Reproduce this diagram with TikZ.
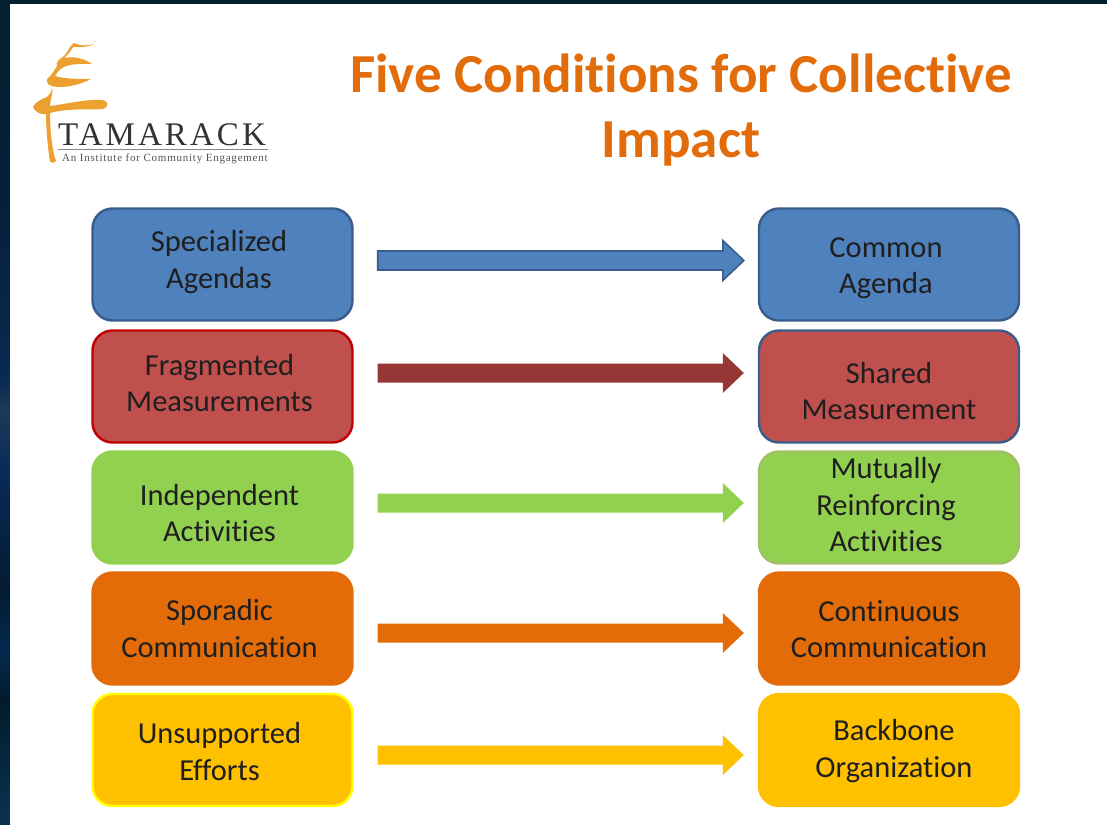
\documentclass[tikz,border=0pt]{standalone}
\usepackage{fontspec}
\setmainfont{Carlito}[Ligatures=CommonOff]
\newfontfamily\logofont{Liberation Serif}
\usetikzlibrary{calc}
\definecolor{bgtop}{HTML}{02202F}
\definecolor{bga}{HTML}{06203A}
\definecolor{bgb}{HTML}{0A2A50}
\definecolor{bgc}{HTML}{1D3A58}
\definecolor{bgd}{HTML}{0A2A5A}
\definecolor{bge}{HTML}{031C30}
\definecolor{bgf}{HTML}{05294F}
\definecolor{bgg}{HTML}{021C2C}
\definecolor{bgh}{HTML}{0A3350}
\definecolor{cblue}{HTML}{4F81BD}
\definecolor{cblueb}{HTML}{385D8A}
\definecolor{cred}{HTML}{C0504D}
\definecolor{credb}{HTML}{C00000}
\definecolor{cdkred}{HTML}{953735}
\definecolor{cgreen}{HTML}{92D050}
\definecolor{cgreenb}{HTML}{A3BF65}
\definecolor{corange}{HTML}{E36C09}
\definecolor{cgold}{HTML}{FFC000}
\definecolor{cyel}{HTML}{FFFF00}
\definecolor{logoor}{HTML}{EBA02F}
\definecolor{logotx}{HTML}{333333}
\definecolor{titleor}{HTML}{E36C0A}
\tikzset{
  box/.style={rounded corners=20pt,minimum width=260pt,minimum height=112pt,line width=2.4pt,inner sep=0pt},
  lbl/.style={align=center,font=\fontsize{30.5}{36.5}\selectfont,text=black!88,inner sep=0pt},
  ttl/.style={align=center,font=\fontsize{55}{65}\selectfont\bfseries,text=titleor,inner sep=0pt},
  tree/.style={fill=logoor,draw=none},
}
\newcommand{\blockarrow}[4]{%
  \path[#1] let \p1=(#2.east),\p2=(#3.west) in
    (\x1+24pt,\y1+#4pt+9.5pt) -- (\x2-35pt,\y1+#4pt+9.5pt)
    -- (\x2-35pt,\y1+#4pt+20pt) -- (\x2-14pt,\y1+#4pt)
    -- (\x2-35pt,\y1+#4pt-20pt) -- (\x2-35pt,\y1+#4pt-9.5pt)
    -- (\x1+24pt,\y1+#4pt-9.5pt) -- cycle;}
\begin{document}
\begin{tikzpicture}[x=1pt,y=-1pt]
\useasboundingbox (0,0) rectangle (1107,824);
% background
\fill[top color=bgtop,bottom color=bga] (0,0) rectangle (10,200.5);
\fill[top color=bga,bottom color=bgb] (0,200) rectangle (10,380.5);
\fill[top color=bgb,bottom color=bgc] (0,380) rectangle (10,410.5);
\fill[top color=bgc,bottom color=bgd] (0,410) rectangle (10,470.5);
\fill[top color=bgd,bottom color=bge] (0,470) rectangle (10,590.5);
\fill[top color=bge,bottom color=bgf] (0,590) rectangle (10,650.5);
\fill[top color=bgf,bottom color=bgg] (0,650) rectangle (10,700.5);
\fill[top color=bgg,bottom color=bgh] (0,700) rectangle (10,824);
\fill[bgtop] (0,0) rectangle (1107,4);
\fill[white] (10,4) rectangle (1107,824);
% logo
\path[tree] (95,44) .. controls (85,48) and (78,47) .. (73,47)
  .. controls (70,53) and (66,56) .. (64,58)
  .. controls (72,56) and (84,58) .. (92,64)
  .. controls (84,64) and (70,63) .. (62,68)
  .. controls (58,71) and (57,73) .. (55,76)
  .. controls (64,79) and (80,79) .. (91,79)
  .. controls (80,85) and (62,89) .. (52,86)
  .. controls (46,85) and (45,79) .. (50,76)
  .. controls (53,73) and (55,69) .. (57,66)
  .. controls (55,62) and (60,59) .. (64,56)
  .. controls (68,52) and (68,48) .. (74,43)
  .. controls (80,46) and (88,46) .. (95,44) -- cycle;
\path[tree] (52,85) .. controls (53,90) and (50,94) .. (47,97)
  .. controls (42,99) and (35,102) .. (33,107)
  .. controls (35,112) and (41,115) .. (46,114)
  .. controls (46,128) and (48,150) .. (50,162)
  .. controls (52,163) and (55,163) .. (56,161)
  .. controls (52,150) and (50,130) .. (50,113)
  .. controls (68,108) and (88,110) .. (103,109)
  .. controls (109,107) and (109,101) .. (102,100)
  .. controls (86,99) and (66,104) .. (50,106)
  .. controls (50,100) and (54,92) .. (52,85) -- cycle;
\node[inner sep=0pt,anchor=base west,text=logotx] (logoname) at (58,145)
  {\logofont\fontsize{33}{33}\selectfont\addfontfeature{LetterSpace=9.3}TAMARACK};
\draw[logotx!60,line width=0.4pt] (logoname.south west |- 0,149.5) -- (268,149.5);
\node[inner sep=0pt,anchor=base west,text=logotx!85] (logosub) at (62,161)
  {\logofont\fontsize{11}{11}\selectfont\addfontfeature{LetterSpace=7}An Institute for Community Engagement};
% title
\node[ttl] (title) at (681,110) {Five Conditions for Collective\\Impact};
% left boxes
\node[box,fill=cblue,draw=cblueb]   (l1) at (222.5,264.5) {};
\node[box,fill=cred,draw=credb]     (l2) at (222.5,386.5) {};
\node[box,fill=cgreen,draw=cgreen]  (l3) at (222.5,507.5) {};
\node[box,fill=corange,draw=corange](l4) at (222.5,628.5) {};
\node[box,fill=cgold,draw=cyel]     (l5) at (222.5,750) {};
% right boxes
\node[box,fill=cblue,draw=cblueb]   (r1) at (889,264.5) {};
\node[box,fill=cred,draw=cblueb]    (r2) at (889,386.5) {};
\node[box,fill=cgreen,draw=cgreenb] (r3) at (889,507.5) {};
\node[box,fill=corange,draw=corange](r4) at (889,628.5) {};
\node[box,fill=cgold,draw=cgold]    (r5) at (889,750) {};
% labels
\node[lbl] (tl1) at (219,262) {Specialized\\Agendas};
\node[lbl] (tl2) at (219.5,383) {Fragmented\\Measurements};
\node[lbl] (tl3) at (219.5,513) {Independent\\Activities};
\node[lbl] (tl4) at (219.5,628.5) {Sporadic\\Communication};
\node[lbl] (tl5) at (219.5,751.5) {Unsupported\\Efforts};
\node[lbl] (tr1) at (886,268) {Common\\Agenda};
\node[lbl] (tr2) at (889,391) {Shared\\Measurement};
\node[lbl] (tr3) at (886,505) {Mutually\\Reinforcing\\Activities};
\node[lbl] (tr4) at (889,629) {Continuous\\Communication};
\node[lbl] (tr5) at (894,751) {Backbone\\Organization};
% arrows
\blockarrow{fill=cblue,draw=cblueb,line width=1.6pt}{l1}{r1}{4}
\blockarrow{fill=cdkred}{l2}{r2}{13.5}
\blockarrow{fill=cgreen}{l3}{r3}{4.5}
\blockarrow{fill=corange}{l4}{r4}{-4.5}
\blockarrow{fill=cgold}{l5}{r5}{-5}
\end{tikzpicture}
\end{document}
